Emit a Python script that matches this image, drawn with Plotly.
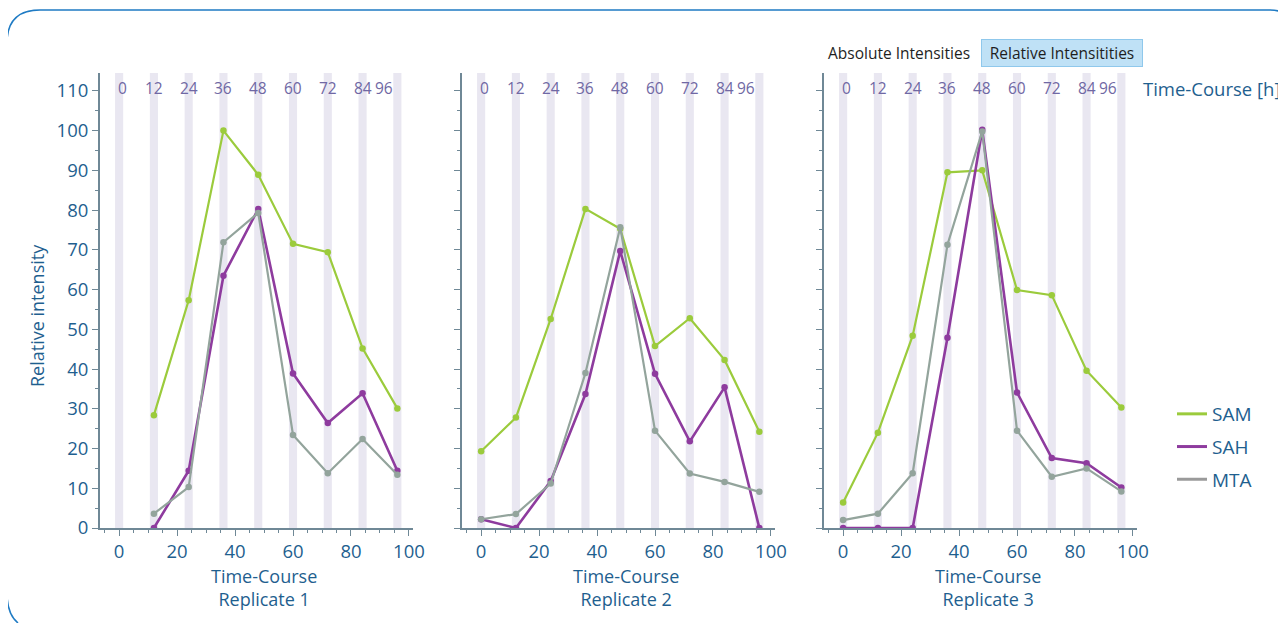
import plotly.graph_objects as go

# ---------------- data ----------------
times = [0, 12, 24, 36, 48, 60, 72, 84, 96]
top_tick_labels = ["0", "12", "24", "36", "48", "60", "72", "84", "96"]
replicates = ["Replicate 1", "Replicate 2", "Replicate 3"]
series_names = ["SAM", "SAH", "MTA"]

rep1_sam = [None, 28.4, 57.3, 100.0, 88.9, 71.5, 69.4, 45.2, 30.1]
rep1_sah = [None, 0.0, 14.4, 63.5, 80.3, 38.9, 26.4, 33.9, 14.4]
rep1_mta = [None, 3.6, 10.3, 71.9, 79.3, 23.4, 13.8, 22.4, 13.4]

rep2_sam = [19.3, 27.8, 52.6, 80.3, 75.3, 45.8, 52.8, 42.3, 24.2]
rep2_sah = [2.2, 0.0, 11.8, 33.7, 69.7, 38.8, 21.8, 35.4, 0.0]
rep2_mta = [2.2, 3.5, 11.2, 39.0, 75.7, 24.5, 13.7, 11.6, 9.1]

rep3_sam = [6.4, 24.0, 48.4, 89.5, 90.0, 59.9, 58.6, 39.6, 30.3]
rep3_sah = [0.0, 0.0, 0.0, 47.9, 100.2, 34.1, 17.6, 16.3, 10.2]
rep3_mta = [2.0, 3.6, 13.8, 71.3, 99.8, 24.5, 12.9, 15.0, 9.2]

panels = [
    [rep1_sam, rep1_sah, rep1_mta],
    [rep2_sam, rep2_sah, rep2_mta],
    [rep3_sam, rep3_sah, rep3_mta],
]

# ---------------- style ----------------
OFF = 8  # page body margin
W, H = 1286 - OFF, 623 - OFF
FONT = "Open Sans"
colors = {"SAM": "#9bcb3c", "SAH": "#8e3b9e", "MTA": "#93a49c"}
legend_colors = {"SAM": "#9bcb3c", "SAH": "#8e3b9e", "MTA": "#9a9a9a"}
widths = {"SAM": 2.2, "SAH": 2.6, "MTA": 2.2}
axis_color = "#6f8896"
label_color = "#1f5f8f"
top_label_color = "#7068a4"
band_color = "#e9e7f1"
border_color = "#1f7bc4"


def px(x):
    return (x - OFF) / W


def py(y):
    return 1 - (y - OFF) / H


x_domains = [(100, 413), (462, 775), (824, 1137)]
y_domain = [py(528), py(73)]
x_range = [-6.6, 101.4]
y_range = [0, 114.5]

fig = go.Figure()

for p, vals in enumerate(panels):
    xa = "x" if p == 0 else f"x{p+1}"
    ya = "y" if p == 0 else f"y{p+1}"
    for name, v in zip(series_names, vals):
        fig.add_trace(go.Scatter(
            x=times, y=v, mode="lines+markers", name=name,
            line=dict(color=colors[name], width=widths[name]),
            marker=dict(color=colors[name], size=6.5),
            xaxis=xa, yaxis=ya, showlegend=False, legendgroup=name,
            hoverinfo="skip"))

# legend entries (line only)
for name in series_names:
    fig.add_trace(go.Scatter(
        x=[None], y=[None], mode="lines", name=name,
        line=dict(color=legend_colors[name], width=3),
        legendgroup=name, showlegend=True, xaxis="x", yaxis="y"))

layout = dict(
    width=W, height=H,
    margin=dict(l=0, r=0, t=0, b=0),
    paper_bgcolor="white", plot_bgcolor="white",
    font=dict(family=FONT, color=label_color),
    showlegend=True,
    legend=dict(x=px(1172), y=py(395), xanchor="left", yanchor="top",
                font=dict(size=19, color=label_color, family=FONT),
                tracegroupgap=5, bgcolor="rgba(0,0,0,0)"),
)

shapes = []
annotations = []
for p in range(3):
    sfx = "" if p == 0 else str(p + 1)
    layout["xaxis" + sfx] = dict(
        domain=[px(x_domains[p][0]), px(x_domains[p][1])], range=x_range,
        anchor="y" + sfx, showgrid=False, zeroline=False,
        showline=True, linecolor=axis_color, linewidth=1.5,
        tick0=0, dtick=20, ticks="outside", ticklen=6, tickcolor=axis_color,
        minor=dict(dtick=5, tick0=0, ticks="outside", ticklen=3, tickcolor=axis_color),
        tickfont=dict(size=18.5, color=label_color, family=FONT),
        automargin=False, fixedrange=True)
    layout["yaxis" + sfx] = dict(
        domain=y_domain, range=y_range, anchor="x" + sfx,
        showgrid=False, zeroline=False,
        showline=True, linecolor=axis_color, linewidth=2,
        tick0=0, dtick=10, ticks="outside", ticklen=6, tickcolor=axis_color,
        minor=dict(dtick=5, tick0=0, ticks="outside", ticklen=3, tickcolor=axis_color),
        showticklabels=(p == 0),
        tickfont=dict(size=18.5, color=label_color, family=FONT),
        automargin=False, fixedrange=True)

    # vertical time bands
    for t in times:
        shapes.append(dict(type="rect", xref="x" + sfx, yref="y" + sfx + " domain",
                           x0=t - 1.4, x1=t + 1.4, y0=0, y1=1,
                           fillcolor=band_color, line=dict(width=0), layer="below"))
    # top time labels
    for t, lab in zip(times, top_tick_labels):
        shift = 3 if t == 0 else (-13 if t == 96 else 0)
        annotations.append(dict(x=t, xref="x" + sfx, y=py(88), yref="paper",
                                text=lab, showarrow=False, xshift=shift,
                                font=dict(size=15.5, color=top_label_color, family=FONT),
                                xanchor="center", yanchor="middle"))
    # x axis title
    annotations.append(dict(x=50, xref="x" + sfx, y=py(587), yref="paper",
                            text="Time-Course<br>" + replicates[p], showarrow=False,
                            font=dict(size=18, color=label_color, family=FONT),
                            xanchor="center", yanchor="middle"))

annotations.append(dict(x=px(37), y=py(316), xref="paper", yref="paper",
                        text="Relative intensity", textangle=-90, showarrow=False,
                        font=dict(size=18, color=label_color, family=FONT),
                        xanchor="center", yanchor="middle"))
annotations.append(dict(x=px(1141), y=py(88), xref="paper", yref="paper",
                        text="Time-Course [h]", showarrow=False,
                        font=dict(size=18.5, color=label_color, family=FONT),
                        xanchor="left", yanchor="middle"))
annotations.append(dict(x=px(899), y=py(53), xref="paper", yref="paper",
                        text="Absolute Intensities", showarrow=False,
                        font=dict(size=15.5, color="#1e1e1e", family=FONT),
                        xanchor="center", yanchor="middle"))
annotations.append(dict(x=px(1062), y=py(53), xref="paper", yref="paper",
                        text="Relative Intensitities", showarrow=False,
                        font=dict(size=15.5, color="#1e1e1e", family=FONT),
                        bgcolor="#bfe1f6", bordercolor="#8fc8ec", borderwidth=1,
                        borderpad=2, width=156, align="center",
                        xanchor="center", yanchor="middle"))


def P(x, y):
    return f"{px(x):.5f},{py(y):.5f}"


border_path = (f"M {P(1286, 17)} Q {P(1283, 10)} {P(1270, 10)} L {P(40, 10)} "
               f"Q {P(7, 10)} {P(7, 43)} L {P(7, 593)} Q {P(7, 614)} {P(18, 623)}")
shapes.append(dict(type="path", xref="paper", yref="paper", path=border_path,
                   line=dict(color=border_color, width=1.5)))

layout["shapes"] = shapes
layout["annotations"] = annotations
fig.update_layout(**layout)

fig.write_html("out.html")
